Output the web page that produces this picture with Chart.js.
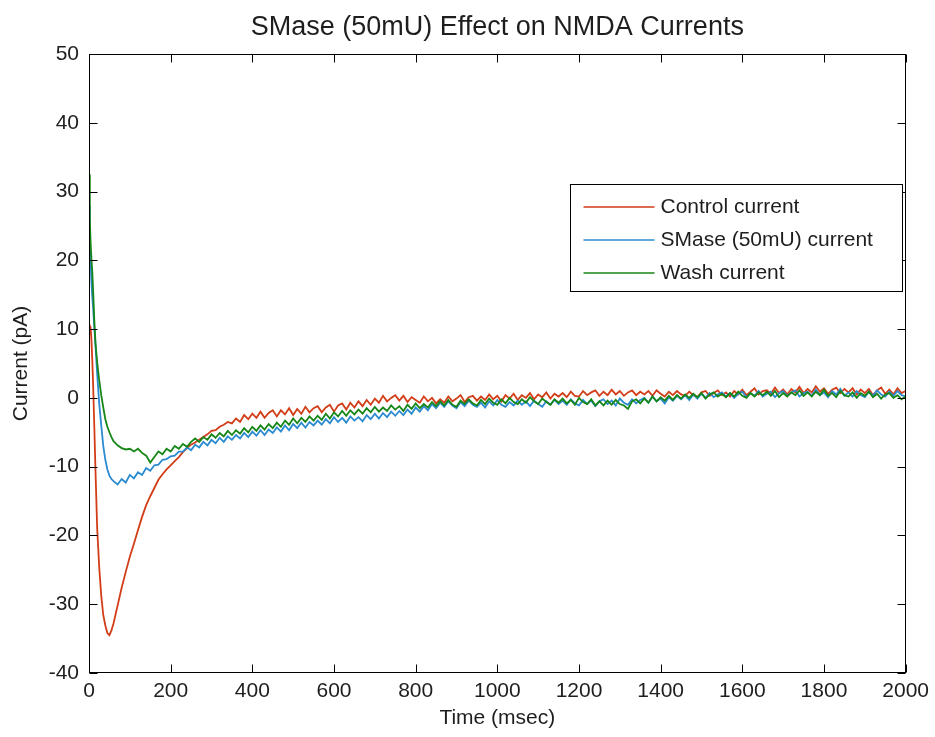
<!DOCTYPE html>
<html>
<head>
<meta charset="utf-8">
<script src="https://cdn.jsdelivr.net/npm/chart.js@4.4.1/dist/chart.umd.min.js"></script>
<style>
  html, body { margin: 0; padding: 0; background: #fff; }
  canvas { display: block; }
</style>
</head>
<body>
<canvas id="nmda" width="935" height="737"></canvas>
<script>
// --- data (time in ms, current in pA) ---
const timeMs = [
    0, 2, 4, 6, 8, 10, 13, 16, 20, 25, 30, 35, 40, 45, 50, 55,
    60, 70, 80, 90, 100, 110, 120, 130, 140, 150,
    160, 170, 180, 190, 200, 210, 220, 230, 240, 250,
    260, 270, 280, 290, 300, 310, 320, 330, 340, 350,
    360, 370, 380, 390, 400, 410, 420, 430, 440, 450,
    460, 470, 480, 490, 500, 510, 520, 530, 540, 550,
    560, 570, 580, 590, 600, 610, 620, 630, 640, 650,
    660, 670, 680, 690, 700, 710, 720, 730, 740, 750,
    760, 770, 780, 790, 800, 810, 820, 830, 840, 850,
    860, 870, 880, 890, 900, 910, 920, 930, 940, 950,
    960, 970, 980, 990, 1000, 1010, 1020, 1030, 1040, 1050,
    1060, 1070, 1080, 1090, 1100, 1110, 1120, 1130, 1140, 1150,
    1160, 1170, 1180, 1190, 1200, 1210, 1220, 1230, 1240, 1250,
    1260, 1270, 1280, 1290, 1300, 1310, 1320, 1330, 1340, 1350,
    1360, 1370, 1380, 1390, 1400, 1410, 1420, 1430, 1440, 1450,
    1460, 1470, 1480, 1490, 1500, 1510, 1520, 1530, 1540, 1550,
    1560, 1570, 1580, 1590, 1600, 1610, 1620, 1630, 1640, 1650,
    1660, 1670, 1680, 1690, 1700, 1710, 1720, 1730, 1740, 1750,
    1760, 1770, 1780, 1790, 1800, 1810, 1820, 1830, 1840, 1850,
    1860, 1870, 1880, 1890, 1900, 1910, 1920, 1930, 1940, 1950,
    1960, 1970, 1980, 1990, 2000
];

const controlCurrent = [
    9.5, 10.5, 10.2, 8.4, 5.6, 2.1, -4.2, -10.8, -18.9, -24.6, -28.8, -31.6, -33.1, -34.2, -34.5, -33.8,
    -32.8, -30.2, -27.6, -25.3, -23.1, -21.2, -19.2, -17.3, -15.6, -14.3,
    -13.1, -11.9, -11.1, -10.4, -9.8, -9.2, -8.6, -7.9, -7.3, -6.8,
    -6.5, -6.1, -5.7, -5.3, -4.8, -4.7, -4.2, -3.9, -3.5, -3.7,
    -3.0, -3.5, -2.5, -3.1, -2.3, -2.9, -2.0, -2.9, -2.2, -1.8,
    -2.7, -1.8, -2.4, -1.5, -2.5, -1.6, -2.3, -1.3, -2.1, -1.5,
    -1.2, -2.1, -1.4, -1.0, -2.0, -1.1, -0.8, -1.7, -0.7, -1.4,
    -0.5, -1.2, -0.3, -1.0, -0.1, -0.7, 0.3, -0.5, 0.0, 0.4,
    -0.4, 0.3, -0.6, 0.1, -0.3, -0.7, 0.2, -0.5, 0.0, -0.8,
    -0.2, -0.7, 0.2, -0.5, -0.1, 0.4, -0.6, 0.1, 0.3, -0.4,
    0.2, -0.3, 0.5, -0.2, 0.3, -0.5, 0.4, -0.1, 0.6, -0.3,
    0.4, 0.0, 0.7, -0.2, 0.5, 0.1, 0.8, -0.1, 0.6, 0.2,
    0.7, 0.1, 0.9, 0.3, 0.2, 1.0, 0.4, 0.8, 1.1, 0.3,
    0.9, 0.4, 1.2, 0.5, 1.0, 0.3, 0.8, 1.1, 0.4, 0.9,
    0.5, 1.0, 0.3, 1.1, 0.6, 0.2, 0.9, 0.4, 1.0, 0.5,
    0.3, 0.9, 0.4, 0.1, 0.8, 1.0, 0.3, 0.7, 1.1, 0.4,
    0.8, 0.2, 1.0, 0.5, 1.2, 0.4, 0.9, 1.4, 0.5, 1.0,
    1.1, 0.6, 1.5, 0.7, 1.2, 0.5, 1.3, 0.8, 1.6, 0.7,
    1.3, 0.8, 1.7, 0.9, 1.4, 0.6, 1.2, 1.5, 0.7, 1.3,
    0.8, 1.4, 0.5, 1.2, 0.7, 1.3, 0.4, 1.1, 1.5, 0.6,
    1.2, 0.5, 1.4, 0.7, 1.0
];

const smaseCurrent = [
    28.0, 22.5, 19.6, 16.8, 14.7, 13.1, 10.2, 7.5, 3.5, -0.8, -4.0, -7.0, -9.0, -10.4, -11.3, -11.8,
    -12.1, -12.6, -11.8, -12.3, -11.2, -11.7, -10.8, -11.2, -10.2, -10.6,
    -9.8, -9.7, -9.0, -8.9, -8.5, -8.4, -7.8, -7.8, -7.2, -7.6,
    -6.8, -7.2, -6.4, -6.9, -6.1, -6.6, -5.8, -6.4, -5.6, -6.1,
    -5.4, -5.9, -5.1, -5.7, -4.9, -5.5, -4.7, -5.4, -4.6, -5.1,
    -4.3, -4.9, -4.0, -4.7, -3.8, -4.4, -3.6, -4.3, -3.5, -4.0,
    -3.3, -3.9, -3.1, -3.7, -2.8, -3.5, -2.9, -3.6, -2.7, -3.3,
    -2.8, -3.4, -2.5, -3.1, -2.3, -3.0, -2.2, -2.8, -2.0, -2.6,
    -1.9, -2.5, -1.7, -2.3, -1.4, -2.0, -1.2, -1.8, -0.9, -1.5,
    -0.7, -1.3, -0.5, -1.1, -1.5, -0.6, -1.2, -0.4, -1.0, -1.3,
    -0.7, -1.4, -0.5, -1.1, -0.3, -1.0, -1.3, -0.6, -1.1, -0.4,
    -1.0, -0.5, -1.2, -0.4, -0.9, -1.3, -0.5, -1.0, -0.3, -0.9,
    -0.4, -1.0, -0.2, -0.8, -1.1, -0.3, -0.9, -0.4, -1.2, -0.5,
    -0.2, -0.9, -0.4, -1.1, -0.1, -0.7, -1.0, -0.2, -0.8, -0.3,
    0.0, -0.7, 0.2, -0.5, -0.1, -0.8, 0.1, -0.4, 0.3, -0.2,
    0.4, -0.3, 0.5, -0.1, 0.6, 0.0, 0.7, 0.1, 0.5, 0.8,
    0.2, 0.7, 0.0, 0.6, 0.9, 0.1, 0.7, 0.3, 1.0, 0.2,
    0.6, 0.9, 0.1, 0.7, 1.0, 0.3, 0.8, 1.1, 0.2, 0.7,
    0.9, 0.3, 1.2, 0.4, 0.8, 0.1, 1.0, 0.5, 1.3, 0.3,
    0.8, 0.2, 1.0, 0.4, 0.1, 0.9, 0.3, 1.1, 0.5, 0.2,
    0.9, 0.3, 1.0, 0.4, 0.2
];

const washCurrent = [
    32.5, 26.0, 22.5, 20.1, 18.4, 15.8, 11.3, 7.9, 5.2, 2.6, 0.4, -1.4, -3.1, -4.2, -5.0, -5.7,
    -6.3, -6.9, -7.3, -7.5, -7.4, -7.8, -7.4, -8.0, -8.4, -9.4,
    -8.6, -7.8, -8.2, -7.4, -7.8, -7.0, -7.4, -6.7, -7.1, -6.4,
    -5.9, -6.4, -5.7, -6.1, -5.3, -5.8, -5.1, -5.6, -4.8, -5.4,
    -4.7, -5.2, -4.4, -5.0, -4.2, -4.8, -4.0, -4.6, -3.8, -4.4,
    -3.6, -4.2, -3.3, -3.9, -3.0, -3.7, -2.9, -3.5, -2.7, -3.3,
    -2.6, -3.2, -2.3, -3.0, -2.1, -2.7, -1.9, -2.6, -1.8, -2.4,
    -1.7, -2.3, -1.5, -2.1, -1.3, -2.0, -1.4, -1.9, -1.1, -1.7,
    -1.2, -1.9, -1.0, -1.6, -0.8, -1.5, -0.9, -1.4, -0.6, -1.2,
    -0.5, -1.1, -0.3, -1.0, -1.3, -0.4, -0.9, -0.2, -0.8, -1.1,
    -0.3, -0.9, -0.1, -0.7, -1.0, -0.2, -0.8, 0.0, -0.6, -0.9,
    -0.2, -0.7, 0.1, -0.5, -0.9, -0.1, -0.6, -1.0, -0.2, -0.7,
    -0.1, -0.8, -0.3, -1.0, 0.0, -0.6, -0.9, -0.2, -1.1, -0.5,
    -1.1, -0.4, -1.0, -0.3, -0.9, -1.1, -1.6, -0.5, -0.2, -0.8,
    -0.1, -0.7, 0.2, -0.5, 0.1, -0.4, 0.3, -0.3, 0.4, -0.1,
    0.5, 0.0, 0.6, 0.1, 0.7, -0.1, 0.5, 0.8, 0.2, 0.6,
    0.1, 0.7, 0.2, 0.9, 0.3, 0.0, 0.7, 0.2, 0.8, 0.4,
    0.9, 0.3, 1.0, 0.1, 0.7, 0.2, 0.8, 0.4, 1.1, 0.3,
    0.8, 0.2, 0.9, 0.4, 1.2, 0.3, 0.7, 0.1, 1.0, 0.4,
    0.2, 0.8, 0.0, 0.7, 0.3, 0.9, 0.1, 0.6, -0.1, 0.5,
    0.7, 0.0, 0.4, -0.2, 0.2
];

const seriesNames = ["Control current", "SMase (50mU) current", "Wash current"];
const seriesColors = ["#d23d17", "#2a8bd0", "#168616"];
const chartTitle = "SMase (50mU) Effect on NMDA Currents";

const FONT = '"Liberation Sans", Arial, sans-serif';
const TXT = "#1e1e1e";

function points(values) {
    return timeMs.map((t, i) => ({ x: t, y: values[i] }));
}

// matlab-like box: title over the axes, frame, inward ticks on all sides, legend inside
const matlabBox = {
    id: "matlabBox",
    afterDraw(chart) {
        const { ctx, chartArea: a, scales } = chart;
        const L = Math.round(a.left) + 0.5, R = Math.round(a.right) - 0.5;
        const T = Math.round(a.top) + 0.5, B = Math.round(a.bottom) - 0.5;
        const tl = 8;

        ctx.save();

        ctx.fillStyle = TXT;
        ctx.font = "27px " + FONT;
        ctx.textAlign = "center";
        ctx.textBaseline = "middle";
        ctx.fillText(chartTitle, (a.left + a.right) / 2, 28);

        ctx.strokeStyle = "#000";
        ctx.lineWidth = 1;
        ctx.strokeRect(L, T, R - L, B - T);

        ctx.beginPath();
        for (const tk of scales.x.ticks) {
            const px = Math.round(scales.x.getPixelForValue(tk.value)) + 0.5;
            ctx.moveTo(px, B); ctx.lineTo(px, B - tl);
            ctx.moveTo(px, T); ctx.lineTo(px, T + tl);
        }
        for (const tk of scales.y.ticks) {
            const py = Math.round(scales.y.getPixelForValue(tk.value)) + 0.5;
            ctx.moveTo(L, py); ctx.lineTo(L + tl, py);
            ctx.moveTo(R, py); ctx.lineTo(R - tl, py);
        }
        ctx.stroke();

        // legend
        const bw = 332, bh = 107;
        const bx = Math.round(a.right) - 4 - bw + 0.5;
        const by = Math.round(a.top) + 130 + 0.5;
        ctx.fillStyle = "#fff";
        ctx.fillRect(bx, by, bw, bh);
        ctx.strokeStyle = "#000";
        ctx.strokeRect(bx, by, bw, bh);

        ctx.font = "21px " + FONT;
        ctx.textAlign = "left";
        ctx.textBaseline = "middle";
        for (let i = 0; i < seriesNames.length; i++) {
            const ry = Math.round(by + 22 + i * 33);
            ctx.strokeStyle = seriesColors[i];
            ctx.lineWidth = 1.5;
            ctx.beginPath();
            ctx.moveTo(bx + 13, ry);
            ctx.lineTo(bx + 84, ry);
            ctx.stroke();
            ctx.fillStyle = TXT;
            ctx.fillText(seriesNames[i], bx + 90, ry);
        }
        ctx.restore();
    }
};

new Chart(document.getElementById("nmda"), {
    type: "line",
    data: {
        datasets: [
            { label: seriesNames[0], data: points(controlCurrent), borderColor: seriesColors[0], order: 3 },
            { label: seriesNames[1], data: points(smaseCurrent), borderColor: seriesColors[1], order: 2 },
            { label: seriesNames[2], data: points(washCurrent), borderColor: seriesColors[2], order: 1 }
        ]
    },
    options: {
        responsive: false,
        animation: false,
        devicePixelRatio: 1,
        layout: { padding: { left: 0, right: 27, top: 54, bottom: 0 } },
        elements: {
            line: { borderWidth: 1.8, tension: 0, fill: false },
            point: { radius: 0 }
        },
        plugins: {
            legend: { display: false },
            tooltip: { enabled: false },
            title: { display: false }
        },
        scales: {
            x: {
                type: "linear",
                min: 0, max: 2000,
                grid: { display: false, drawTicks: false },
                border: { display: false },
                ticks: {
                    stepSize: 200, padding: 6, color: TXT, maxRotation: 0,
                    font: { family: FONT, size: 21 },
                    callback: v => String(v)
                },
                title: { display: true, text: "Time (msec)", color: TXT, font: { family: FONT, size: 21 }, padding: { top: 0, bottom: 6 } },
                afterFit(s) { s.height = 64; }
            },
            y: {
                min: -40, max: 50,
                grid: { display: false, drawTicks: false },
                border: { display: false },
                ticks: {
                    stepSize: 10, padding: 10, color: TXT,
                    font: { family: FONT, size: 21 },
                    callback: v => String(v)
                },
                title: { display: true, text: "Current (pA)", color: TXT, font: { family: FONT, size: 21 }, padding: { top: 9, bottom: 0 } },
                afterFit(s) { s.width = 89; }
            }
        }
    },
    plugins: [matlabBox]
});
</script>
</body>
</html>
